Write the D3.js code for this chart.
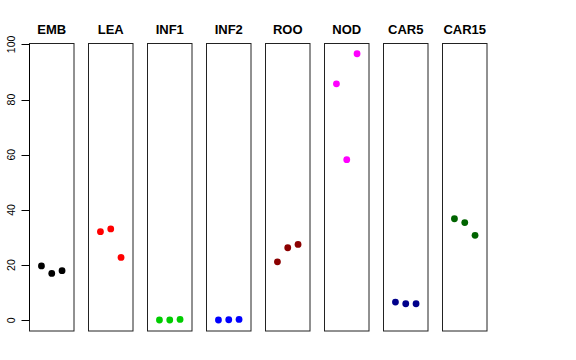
<!DOCTYPE html>
<html><head><meta charset="utf-8">
<script src="https://cdn.jsdelivr.net/npm/d3@7"></script>
<style>body{margin:0;background:#fff}svg{display:block}</style>
</head><body><svg id="c" width="576" height="360"></svg>
<script>
const categories = ["EMB","LEA","INF1","INF2","ROO","NOD","CAR5","CAR15"];
const colors = ["#000000","#FF0000","#00CD00","#0000FF","#8B0000","#FF00FF","#00008B","#006400"];
const rep1 = [19.7, 32.1, 0.1, 0.1, 21.2, 85.7, 6.6, 36.8];
const rep2 = [17.0, 33.1, 0.1, 0.2, 26.3, 58.2, 6.0, 35.4];
const rep3 = [18.0, 22.8, 0.3, 0.3, 27.5, 96.6, 6.0, 30.8];
const yTicks = [0, 20, 40, 60, 80, 100];

(function(){
const svg = d3.select("#c");
const pTop = 43, pBottom = 330.5, panelW = 44.5;
const y = d3.scaleLinear().domain([-3.7, 100.5]).range([pBottom, pTop]);
const xPanel = d3.scalePoint().domain(categories).range([29, 442]);
const xIn = d3.scalePoint().domain([0,1,2]).range([-10.3, 10.3]);

categories.forEach((cat, i) => {
  const x0 = xPanel(cat);
  const g = svg.append("g");
  g.append("rect").attr("x", x0 + 0.5).attr("y", pTop + 0.5)
    .attr("width", panelW).attr("height", pBottom - pTop)
    .attr("fill", "none").attr("stroke", "#222").attr("stroke-width", 1);
  g.append("text").attr("x", x0 + panelW/2 + 0.5).attr("y", 34)
    .attr("text-anchor", "middle").attr("font-family", "Liberation Sans, Arial, sans-serif")
    .attr("font-weight", "bold").attr("font-size", 13).text(cat);
  const vals = [rep1[i], rep2[i], rep3[i]];
  g.selectAll("circle").data(vals).join("circle")
    .attr("cx", (d, j) => x0 + panelW/2 + 0.5 + xIn(j))
    .attr("cy", d => y(d)).attr("r", 3.4).attr("fill", colors[i]);
});

const ax = svg.append("g").attr("transform", "translate(29.5,0)");
ax.append("line").attr("x1", 0).attr("x2", 0).attr("y1", y(0)).attr("y2", y(100)).attr("stroke", "#000");
yTicks.forEach(t => {
  ax.append("line").attr("x1", -8).attr("x2", 0).attr("y1", Math.round(y(t)) + 0.5).attr("y2", Math.round(y(t)) + 0.5).attr("stroke", "#000");
  ax.append("text").attr("transform", `translate(-15,${y(t)}) rotate(-90)`)
    .attr("text-anchor", "middle").attr("font-family", "Liberation Sans, Arial, sans-serif")
    .attr("font-size", 10.5).text(t);
});
})();
</script></body></html>
